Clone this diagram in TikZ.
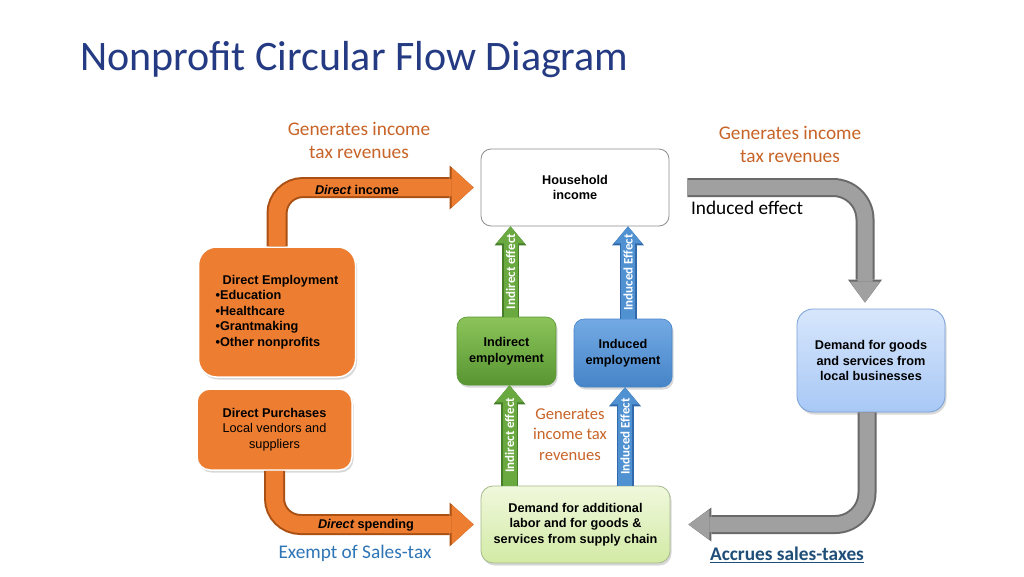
\documentclass[tikz,border=0pt]{standalone}
\usepackage{fontspec}
\setmainfont{Carlito}
\newfontfamily\arialf{Liberation Sans}
\usetikzlibrary{arrows.meta,shadows,calc}
\definecolor{titleblue}{RGB}{36,58,130}
\definecolor{taxorange}{RGB}{200,100,40}
\definecolor{exblue}{RGB}{46,117,182}
\definecolor{accblue}{RGB}{31,78,121}
\definecolor{orM}{RGB}{236,125,49}
\definecolor{orD}{RGB}{170,80,20}
\definecolor{orT}{RGB}{245,150,80}
\definecolor{grM}{RGB}{160,160,160}
\definecolor{grD}{RGB}{105,105,105}
\definecolor{gnM}{RGB}{106,168,64}
\definecolor{gnD}{RGB}{70,125,40}
\definecolor{gnT}{RGB}{140,196,90}
\definecolor{gnB}{RGB}{88,150,50}
\definecolor{blM}{RGB}{80,145,210}
\definecolor{blD}{RGB}{50,105,170}
\definecolor{blT}{RGB}{115,170,228}
\definecolor{blB}{RGB}{70,132,200}
\definecolor{lgT}{RGB}{240,248,220}
\definecolor{lgB}{RGB}{210,234,165}
\definecolor{lgD}{RGB}{165,185,140}
\definecolor{lbT}{RGB}{215,230,252}
\definecolor{lbB}{RGB}{168,200,245}
\definecolor{lbD}{RGB}{120,160,215}
\begin{document}
\begin{tikzpicture}[x=1pt,y=-1pt,
  boxtext/.style={font=\arialf\bfseries\fontsize{12.7}{15.5}\selectfont, text=black, align=center, inner sep=0pt},
  lbl/.style={font=\fontsize{19.3}{23}\selectfont, align=center, inner sep=0pt},
  arrlbl/.style={font=\arialf\bfseries\fontsize{12.7}{14}\selectfont, inner sep=0pt},
  vlbl/.style={font=\bfseries\fontsize{13}{14}\selectfont, text=white, inner sep=0pt},
  shad/.style={drop shadow={shadow xshift=1.5pt, shadow yshift=-2.5pt, opacity=0.3}},
  fatO/.style={preaction={draw=orD, line width=21pt, -{Triangle[length=24pt, width=44pt, line width=0pt]}},
               draw=orM, line width=17pt, -{Triangle[length=22pt, width=40pt, line width=0pt]}, rounded corners=26pt},
  fatGr/.style={preaction={draw=grD, line width=19pt, -{Triangle[length=23pt, width=34pt, line width=0pt]}},
               draw=grM, line width=15pt, -{Triangle[length=21pt, width=30pt, line width=0pt]}, rounded corners=32pt},
  fatG/.style={preaction={draw=gnD, line width=17pt, -{Triangle[length=19pt, width=32pt, line width=0pt]}},
               draw=gnM, line width=14pt, -{Triangle[length=17pt, width=28pt, line width=0pt]}},
  fatB/.style={preaction={draw=blD, line width=17pt, -{Triangle[length=19pt, width=32pt, line width=0pt]}},
               draw=blM, line width=14pt, -{Triangle[length=17pt, width=28pt, line width=0pt]}},
]
\useasboundingbox (0,0) rectangle (1024,576);
\fill[white] (0,0) rectangle (1024,576);

% title
\node[anchor=base west, inner sep=0pt, font=\fontsize{42}{46}\selectfont, text=titleblue] (title) at (80,70) {Nonprofit Circular Flow Diagram};

% boxes
\node[boxtext, minimum width=157pt, minimum height=130pt, rounded corners=18pt, fill=orM, draw=white, line width=1.5pt, shad, align=left] (demp) at (277,312)
  {\hspace*{7pt}Direct Employment\\•Education\\•Healthcare\\•Grantmaking\\•Other nonprofits};
\node[boxtext, minimum width=155pt, minimum height=81pt, rounded corners=13pt, fill=orM, draw=white, line width=1.5pt, shad] (dpur) at (274.5,429.5)
  {Direct Purchases\\{\mdseries Local vendors and}\\{\mdseries suppliers}};
\node[boxtext, minimum width=188pt, minimum height=77pt, rounded corners=10pt, fill=white, draw=black!45, line width=0.8pt] (hh) at (575,187.5)
  {Household\\income};
\node[boxtext, minimum width=99pt, minimum height=68pt, rounded corners=10pt, top color=gnT, bottom color=gnB, draw=gnB, line width=0.6pt, shad] (iemp) at (506.5,351)
  {Indirect\\employment};
\node[boxtext, minimum width=98pt, minimum height=68pt, rounded corners=10pt, top color=blT, bottom color=blB, draw=blB, line width=0.6pt, shad] (uemp) at (623,353)
  {Induced\\employment};
\node[boxtext, minimum width=189pt, minimum height=77pt, rounded corners=12pt, top color=lgT, bottom color=lgB, draw=lgD, line width=0.8pt, shad] (dadd) at (575.5,524.5)
  {Demand for additional\\labor and for goods \&\\services from supply chain};
\node[boxtext, minimum width=148pt, minimum height=103pt, rounded corners=16pt, top color=lbT, bottom color=lbB, draw=lbD, line width=0.8pt, shad] (dgoods) at (871,360.5)
  {Demand for goods\\and services from\\local businesses};

% fat orange arrows
\draw[fatO, shorten >=7pt] (demp.north) |- (hh.west);
\draw[fatO, shorten >=7pt] (dpur.south) |- (dadd.west);
% gray arrows
\draw[fatGr, shorten <=18pt, shorten >=6pt] (hh.east) -| ($(dgoods.north)+(-6,0)$);
\draw[fatGr, shorten >=18pt] ($(dgoods.south)+(-4,0)$) |- (dadd.east);
% vertical arrows
\draw[fatG] ($(iemp.north)+(4,0)$) -- node[vlbl, sloped] {Indirect effect} ($(iemp.north |- hh.south)+(4,0)$);
\draw[fatB] ($(uemp.north)+(5,0)$) -- node[vlbl, sloped] {Induced Effect} ($(uemp.north |- hh.south)+(5,0)$);
\draw[fatG] ($(iemp.south |- dadd.north)+(3,0)$) -- node[vlbl, sloped] {Indirect effect} ($(iemp.south)+(3,0)$);
\draw[fatB] ($(uemp.south |- dadd.north)+(2,0)$) -- node[vlbl, sloped] {Induced Effect} ($(uemp.south)+(2,0)$);

% labels
\node[arrlbl] (dinc) at (357,190) {{\itshape Direct} income};
\node[arrlbl] (dspe) at (366,525) {{\itshape Direct} spending};
\node[lbl, text=taxorange] (gen1) at (359,140) {Generates income\\tax revenues};
\node[lbl, text=taxorange] (gen2) at (790,144.5) {Generates income\\tax revenues};
\node[lbl, text=taxorange, font=\fontsize{16.6}{20.5}\selectfont] (gen3) at (570,434.5) {Generates\\income tax\\revenues};
\node[lbl, text=black] (ind) at (747,208) {Induced effect};
\node[lbl, text=exblue] (exempt) at (355,553) {Exempt of Sales-tax};
\node[lbl, text=accblue, font=\bfseries\fontsize{19.3}{23}\selectfont] (accr) at (787,555) {\underline{Accrues sales-taxes}};
\end{tikzpicture}
\end{document}
